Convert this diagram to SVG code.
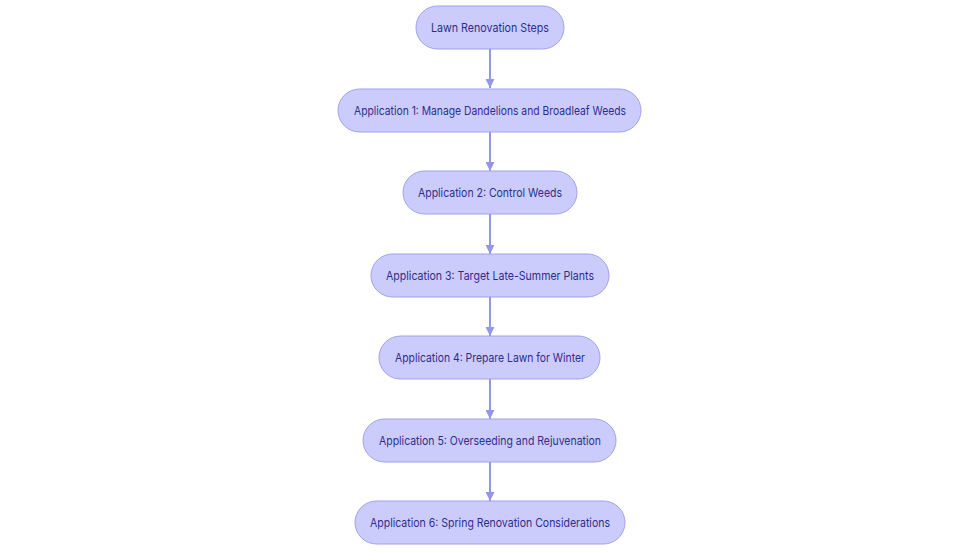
<svg xmlns="http://www.w3.org/2000/svg" width="980" height="553" viewBox="0 0 980 553">
<defs>
<marker id="arr" viewBox="0 0 10 10" refX="10" refY="5" markerWidth="9" markerHeight="9" markerUnits="userSpaceOnUse" orient="auto">
<path d="M0,0 L10,5 L0,10 z" fill="#9494e8"/>
</marker>
<style>
.n rect{fill:#ccccfc;stroke:#a0a0ec;stroke-width:1}
.n text{font-family:Inter,"Open Sans",sans-serif;font-size:12px;fill:#2c2c8c;text-anchor:middle;dominant-baseline:central}
.e line{stroke:#9494e8;stroke-width:2;marker-end:url(#arr)}
</style>
</defs>
<rect width="980" height="553" fill="#ffffff"/>
<g id="edges" class="e">
<line x1="490" y1="49" x2="490" y2="88"/>
<line x1="490" y1="132" x2="490" y2="171"/>
<line x1="490" y1="214" x2="490" y2="254"/>
<line x1="490" y1="297" x2="490" y2="336"/>
<line x1="490" y1="379" x2="490" y2="419"/>
<line x1="490" y1="462" x2="490" y2="501"/>
</g>
<g id="n0" class="n"><rect x="416" y="6" width="148" height="43" rx="21.5"/><text x="490" y="27.5" textLength="118" lengthAdjust="spacingAndGlyphs">Lawn Renovation Steps</text></g>
<g id="n1" class="n"><rect x="338" y="89" width="303" height="43" rx="21.5"/><text x="490" y="110.5" textLength="272" lengthAdjust="spacingAndGlyphs">Application 1: Manage Dandelions and Broadleaf Weeds</text></g>
<g id="n2" class="n"><rect x="403" y="171" width="174" height="43" rx="21.5"/><text x="490" y="192.5" textLength="144" lengthAdjust="spacingAndGlyphs">Application 2: Control Weeds</text></g>
<g id="n3" class="n"><rect x="371" y="254" width="238" height="43" rx="21.5"/><text x="490" y="275.5" textLength="208" lengthAdjust="spacingAndGlyphs">Application 3: Target Late-Summer Plants</text></g>
<g id="n4" class="n"><rect x="379" y="336" width="221" height="43" rx="21.5"/><text x="490" y="357.5" textLength="190" lengthAdjust="spacingAndGlyphs">Application 4: Prepare Lawn for Winter</text></g>
<g id="n5" class="n"><rect x="363" y="419" width="253" height="43" rx="21.5"/><text x="490" y="440.5" textLength="222" lengthAdjust="spacingAndGlyphs">Application 5: Overseeding and Rejuvenation</text></g>
<g id="n6" class="n"><rect x="355" y="501" width="270" height="43" rx="21.5"/><text x="490" y="522.5" textLength="240" lengthAdjust="spacingAndGlyphs">Application 6: Spring Renovation Considerations</text></g>
</svg>
